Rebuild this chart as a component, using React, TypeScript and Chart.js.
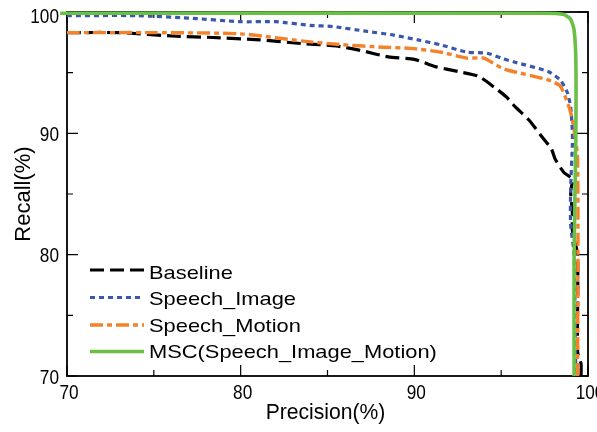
import { useEffect, useRef } from "react";
import { Chart, registerables } from "chart.js";

Chart.register(...registerables);

const seriesNames = ["Baseline", "Speech_Image", "Speech_Motion", "MSC(Speech_Image_Motion)"];

const baselinePrecision = [70, 73, 76.3, 78.4, 81.1, 83.5, 85.5, 87, 88.5, 90, 91.2, 92.5, 93.7, 94.6, 95.3, 95.8, 96.6, 97.3, 97.9, 98.1, 98.6, 99.1, 99.0, 99.1, 99.1, 99.4, 99.4, 99.6, 99.6];
const baselineRecall = [98.3, 98.3, 98.0, 97.9, 97.7, 97.4, 97.2, 96.8, 96.3, 96.1, 95.5, 95.1, 94.7, 93.8, 93.0, 92.2, 91.1, 89.8, 88.7, 87.9, 86.8, 86.2, 85.2, 83.5, 82.0, 80.0, 72.0, 71.0, 70.0];

const imagePrecision = [70, 74, 77, 80, 82, 84, 85.3, 87.3, 88.8, 90.2, 91.5, 93, 94.2, 95, 95.7, 97.7, 98.4, 98.8, 99.0, 99.1, 99.1, 99.0, 99.0, 99.2, 99.3];
const imageRecall = [99.7, 99.7, 99.5, 99.2, 99.2, 98.9, 98.8, 98.4, 98.1, 97.7, 97.3, 96.7, 96.6, 96.2, 95.9, 95.1, 94.4, 93.4, 92.2, 90.1, 89.0, 85.5, 82.5, 80.0, 70.0];

const motionPrecision = [70, 75, 80, 83.6, 85.9, 88.2, 89.8, 91.5, 93, 94, 95, 95.4, 97.7, 98.4, 98.9, 99.1, 99.4, 99.4];
const motionRecall = [98.3, 98.3, 98.2, 97.6, 97.3, 97.1, 97.0, 96.7, 96.2, 96.2, 95.4, 95.2, 94.4, 93.9, 92.2, 91.1, 88.0, 70.0];

const mscPrecision = [69.6, 97.5, 98.6, 99.0, 99.2, 99.3, 99.3, 99.2, 99.2];
const mscRecall = [99.9, 99.9, 99.8, 99.4, 98.5, 96.0, 90.0, 80.0, 70.0];

const majorTicks = [70, 80, 90, 100];
const minorTicks = [75, 85, 95];

const colors = ["#000000", "#3a58aa", "#f5822a", "#6abf45"];
const dashes: number[][] = [[14, 6], [5, 4], [13, 4, 5, 4], []];
const widths = [3.2, 3.2, 3.4, 3.6];

function toPoints(xs: number[], ys: number[]) {
  return xs.map((x, i) => ({ x, y: ys[i] }));
}

const FONT = "'Liberation Sans', Arial, sans-serif";

function drawText(ctx: any, text: string, x: number, y: number, size: number, sx: number, align: string) {
  ctx.save();
  ctx.font = `${size}px ${FONT}`;
  ctx.textAlign = align;
  ctx.textBaseline = "alphabetic";
  ctx.translate(x, y);
  ctx.scale(sx, 1);
  ctx.fillText(text, 0, 0);
  ctx.restore();
}

const framePlugin = {
  id: "frame",
  beforeDatasetsDraw(chart: any) {
    const { ctx, chartArea: a, scales } = chart;
    const xs = scales.x;
    const ys = scales.y;
    ctx.save();
    ctx.strokeStyle = "#000";
    ctx.lineWidth = 1.8;
    ctx.strokeRect(a.left, a.top, a.right - a.left, a.bottom - a.top);
    ctx.lineWidth = 1.2;
    const tick = (v: number, len: number) => {
      const px = xs.getPixelForValue(v);
      const py = ys.getPixelForValue(v);
      ctx.beginPath();
      ctx.moveTo(px, a.bottom); ctx.lineTo(px, a.bottom - len);
      ctx.moveTo(px, a.top); ctx.lineTo(px, a.top + len);
      ctx.moveTo(a.left, py); ctx.lineTo(a.left + len, py);
      ctx.moveTo(a.right, py); ctx.lineTo(a.right - len, py);
      ctx.stroke();
    };
    majorTicks.forEach((v) => tick(v, 11));
    minorTicks.forEach((v) => tick(v, 6));

    ctx.fillStyle = "#000";
    majorTicks.forEach((v) => {
      drawText(ctx, String(v), xs.getPixelForValue(v) + 2, a.bottom + 23, 20, 0.86, "center");
    });
    majorTicks.forEach((v) => {
      const py = Math.max(ys.getPixelForValue(v) + 7.5, a.top + 10.5);
      drawText(ctx, String(v), a.left - 8, py, 20, 0.86, "right");
    });

    drawText(ctx, "Precision(%)", (a.left + a.right) / 2 - 2, 419, 22, 0.96, "center");
    ctx.save();
    ctx.translate(30, (a.top + a.bottom) / 2);
    ctx.rotate(-Math.PI / 2);
    drawText(ctx, "Recall(%)", 0, 0, 22, 1, "center");
    ctx.restore();
    ctx.restore();
  },
  afterDatasetsDraw(chart: any) {
    const { ctx } = chart;
    ctx.save();
    const lineRows = [270, 297.5, 325, 351.5];
    const textRows = [279, 305, 331.5, 358];
    seriesNames.forEach((name, i) => {
      ctx.beginPath();
      ctx.strokeStyle = colors[i];
      ctx.lineWidth = widths[i];
      ctx.setLineDash(dashes[i]);
      ctx.moveTo(90, lineRows[i]);
      ctx.lineTo(144, lineRows[i]);
      ctx.stroke();
      ctx.setLineDash([]);
      ctx.fillStyle = "#000";
      drawText(ctx, name, 149, textRows[i], 19, 1.15, "left");
    });
    ctx.restore();
  },
};

export default function App() {
  const ref = useRef<HTMLCanvasElement | null>(null);
  useEffect(() => {
    if (!ref.current) return;
    const sets = [
      toPoints(baselinePrecision, baselineRecall),
      toPoints(imagePrecision, imageRecall),
      toPoints(motionPrecision, motionRecall),
      toPoints(mscPrecision, mscRecall),
    ];
    const chart = new Chart(ref.current, {
      type: "line",
      data: {
        datasets: sets.map((d, i) => ({
          label: seriesNames[i],
          data: d,
          borderColor: colors[i],
          borderWidth: widths[i],
          borderDash: dashes[i],
          pointRadius: 0,
          fill: false,
          tension: 0.2,
          clip: i === 3 ? false : 3,
          order: i === 3 ? 0 : 4 - i,
        })),
      },
      options: {
        responsive: false,
        animation: false,
        layout: { padding: { top: 12, right: 9, left: 0, bottom: 0 } },
        plugins: { legend: { display: false }, tooltip: { enabled: false } },
        scales: {
          x: {
            type: "linear",
            min: 70,
            max: 100,
            grid: { display: false },
            border: { display: false },
            ticks: { display: false },
            afterFit: (s: any) => { s.height = 56; },
          },
          y: {
            type: "linear",
            min: 70,
            max: 100,
            grid: { display: false },
            border: { display: false },
            ticks: { display: false },
            afterFit: (s: any) => { s.width = 67; },
          },
        },
      },
      plugins: [framePlugin],
    } as any);
    return () => chart.destroy();
  }, []);
  return (
    <div style={{ position: "fixed", left: 0, top: 0, width: 597, height: 432, background: "#fff" }}>
      <canvas ref={ref} width={597} height={432} />
    </div>
  );
}
